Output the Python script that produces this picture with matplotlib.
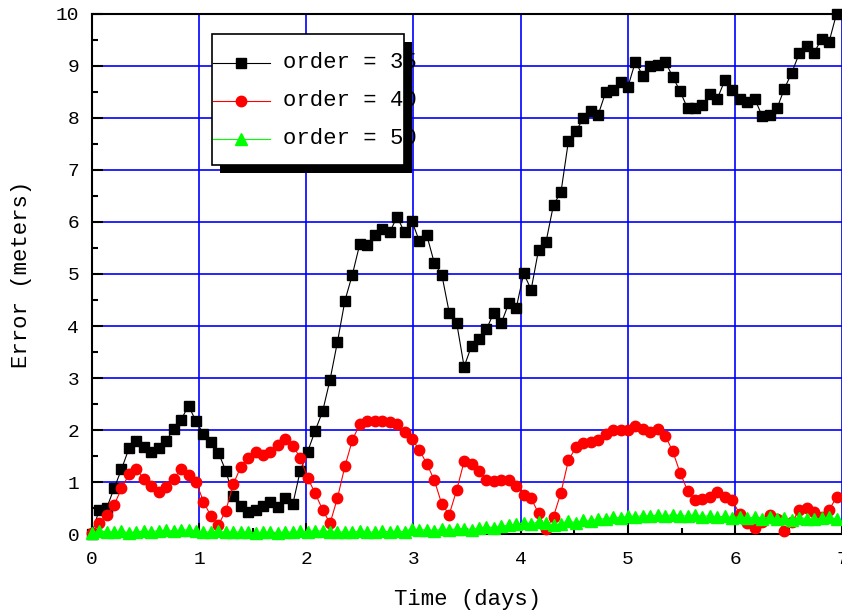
import numpy as np
import matplotlib
matplotlib.use('Agg')
import matplotlib.pyplot as plt
from matplotlib.lines import Line2D
from matplotlib.patches import Rectangle, Polygon

# samples every 100 minutes, converted to days
minutes = np.arange(0, 10001, 100)
days = minutes / 1440.0

order35 = [0.00, 0.47, 0.50, 0.88, 1.25, 1.65, 1.79, 1.68, 1.59, 1.65,
           1.80, 2.02, 2.20, 2.47, 2.17, 1.93, 1.78, 1.57, 1.22, 0.74,
           0.54, 0.43, 0.47, 0.54, 0.63, 0.53, 0.70, 0.58, 1.22, 1.59,
           1.99, 2.36, 2.97, 3.70, 4.49, 4.99, 5.58, 5.55, 5.75, 5.87,
           5.80, 6.10, 5.80, 6.01, 5.63, 5.74, 5.21, 4.99, 4.26, 4.06,
           3.22, 3.62, 3.75, 3.94, 4.26, 4.06, 4.44, 4.35, 5.01, 4.70,
           5.47, 5.62, 6.33, 6.57, 7.55, 7.74, 7.99, 8.13, 8.06, 8.49,
           8.53, 8.69, 8.60, 9.08, 8.80, 8.99, 9.01, 9.08, 8.79, 8.51,
           8.18, 8.18, 8.25, 8.45, 8.37, 8.72, 8.54, 8.37, 8.31, 8.37,
           8.04, 8.06, 8.18, 8.56, 8.87, 9.24, 9.38, 9.25, 9.52, 9.46,
           10.0]

order40 = [0.02, 0.21, 0.37, 0.56, 0.88, 1.15, 1.26, 1.06, 0.93, 0.81,
           0.90, 1.07, 1.25, 1.13, 1.01, 0.63, 0.35, 0.18, 0.45, 0.96,
           1.29, 1.47, 1.58, 1.52, 1.59, 1.72, 1.84, 1.70, 1.47, 1.08,
           0.79, 0.47, 0.21, 0.70, 1.31, 1.81, 2.12, 2.18, 2.17, 2.17,
           2.16, 2.11, 1.97, 1.83, 1.62, 1.35, 1.04, 0.58, 0.38, 0.85,
           1.40, 1.35, 1.22, 1.04, 1.03, 1.04, 1.04, 0.93, 0.75, 0.69,
           0.40, 0.10, 0.34, 0.80, 1.42, 1.67, 1.76, 1.77, 1.81, 1.93,
           2.00, 2.01, 2.00, 2.08, 2.02, 1.97, 2.02, 1.89, 1.60, 1.18,
           0.84, 0.66, 0.67, 0.72, 0.82, 0.72, 0.65, 0.39, 0.22, 0.12,
           0.24, 0.37, 0.29, 0.07, 0.23, 0.47, 0.50, 0.42, 0.33, 0.47,
           0.71]

order50 = [0.02, 0.06, 0.05, 0.04, 0.06, 0.03, 0.05, 0.06, 0.05, 0.07,
           0.08, 0.06, 0.09, 0.08, 0.07, 0.05, 0.04, 0.06, 0.04, 0.05,
           0.04, 0.05, 0.03, 0.04, 0.05, 0.03, 0.05, 0.04, 0.06, 0.05,
           0.07, 0.06, 0.05, 0.04, 0.05, 0.04, 0.06, 0.05, 0.04, 0.06,
           0.05, 0.06, 0.05, 0.11, 0.08, 0.09, 0.07, 0.10, 0.09, 0.10,
           0.11, 0.09, 0.12, 0.14, 0.13, 0.16, 0.17, 0.19, 0.22, 0.20,
           0.24, 0.22, 0.18, 0.20, 0.26, 0.22, 0.27, 0.25, 0.30, 0.29,
           0.33, 0.31, 0.35, 0.34, 0.36, 0.35, 0.37, 0.35, 0.38, 0.36,
           0.35, 0.38, 0.34, 0.36, 0.33, 0.35, 0.32, 0.34, 0.31, 0.33,
           0.30, 0.34, 0.29, 0.31, 0.28, 0.32, 0.30, 0.29, 0.31, 0.33,
           0.29]

labels = ['order = 35', 'order = 40', 'order = 50']

plt.rcParams['font.family'] = ['Liberation Mono', 'DejaVu Sans Mono']

W, H = 842.0, 611.0
fig = plt.figure(figsize=(8.42, 6.11), dpi=100)
ax = fig.add_axes([91.7 / W, 1 - 534.3 / H, (842.5 - 91.7) / W, (534.3 - 13.7) / H])

styles = [('k', 's', 7), ('red', 'o', 7.5), ('#00ff00', '^', 8)]
series = [order35, order40, order50]
for vals, (c, m, ms) in zip(series, styles):
    ax.plot(days, vals, '-', color=c, marker=m, ms=ms, mec=c, mfc=c,
            lw=0.8, clip_on=False, zorder=3)

ax.set_xlim(0, 7)
ax.set_ylim(0, 10)
ax.set_xticks(range(8))
ax.set_yticks(range(11))
ax.set_xticks(np.arange(0, 7.01, 0.5), minor=True)
ax.set_yticks(np.arange(0, 10.01, 0.5), minor=True)
ax.grid(True, which='major', color='#0000ff', lw=1.2)
ax.set_axisbelow(True)
ax.tick_params(which='both', direction='in', top=False, right=False, width=1.5)
ax.tick_params(which='major', length=8, labelsize=14)
ax.tick_params(axis='x', which='major', pad=12)
ax.tick_params(axis='y', which='major', pad=9)
ax.tick_params(which='minor', length=4.5)
for s in ax.spines.values():
    s.set_linewidth(1.5)

ax.set_xlabel('Time (days)', fontsize=16, labelpad=15)
ax.set_ylabel('Error (meters)', fontsize=16, labelpad=17)

# legend box with solid black drop shadow
def fx(px):
    return px / W

def fy(py):
    return 1 - py / H

bx0, bx1, by0, by1 = 212, 404, 34, 165
fig.add_artist(Rectangle((fx(bx0), fy(by1)), fx(bx1) - fx(bx0), fy(by0) - fy(by1),
                         transform=fig.transFigure, fc='white', ec='k', lw=1.2, zorder=5))
shadow = [(bx1, by0 + 8), (bx1 + 8, by0 + 8), (bx1 + 8, by1 + 8),
          (bx0 + 8, by1 + 8), (bx0 + 8, by1), (bx1, by1)]
fig.add_artist(Polygon([(fx(a), fy(b)) for a, b in shadow], closed=True,
                       transform=fig.transFigure, fc='k', ec='k', lw=0, zorder=8))
rows = [63, 101, 139]
for row, lab, (c, m, ms) in zip(rows, labels, styles):
    fig.add_artist(Line2D([fx(213), fx(270)], [fy(row), fy(row)], color=c, lw=0.8,
                          transform=fig.transFigure, zorder=6))
    fig.add_artist(Line2D([fx(241)], [fy(row)], color=c, marker=m, ms=ms, mfc=c, mec=c,
                          transform=fig.transFigure, zorder=6))
    fig.text(fx(283), fy(row), lab, fontsize=16, va='center', ha='left', zorder=7)

fig.savefig('out.png', dpi=100)
